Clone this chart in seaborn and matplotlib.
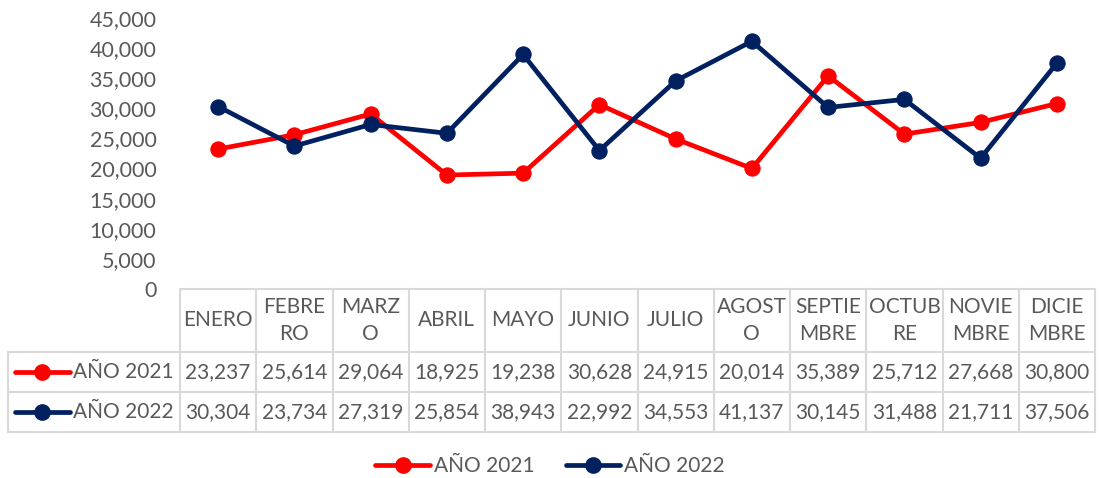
import matplotlib
matplotlib.use("Agg")
import matplotlib.pyplot as plt
from matplotlib.lines import Line2D
import seaborn as sns
import pandas as pd

# Datos del gráfico
meses = ["ENERO", "FEBRE\nRO", "MARZ\nO", "ABRIL", "MAYO", "JUNIO", "JULIO",
         "AGOST\nO", "SEPTIE\nMBRE", "OCTUB\nRE", "NOVIE\nMBRE", "DICIE\nMBRE"]
serie_2021 = [23237, 25614, 29064, 18925, 19238, 30628, 24915, 20014, 35389, 25712, 27668, 30800]
serie_2022 = [30304, 23734, 27319, 25854, 38943, 22992, 34553, 41137, 30145, 31488, 21711, 37506]
nombres = ["AÑO 2021", "AÑO 2022"]
colores = ["#FF0000", "#002060"]

sns.set_style("white")
plt.rcParams["font.family"] = ["Lato", "DejaVu Sans"]
gris = "#595959"
linea_tabla = "#D9D9D9"
fs = 15

fig = plt.figure(figsize=(10.99, 4.78), dpi=100)
W, H = 1099, 478
ax = fig.add_axes([180 / W, (H - 289) / H, 915 / W, 271 / H])

x = list(range(len(meses)))
for nombre, valores, color in zip(nombres, [serie_2021, serie_2022], colores):
    df = pd.DataFrame({"mes": x, "valor": valores})
    sns.lineplot(data=df, x="mes", y="valor", ax=ax, color=color, marker="o",
                 markersize=11, markeredgecolor=color, linewidth=3.4, label=nombre,
                 sort=False)

ax.set_xlim(-0.5, len(meses) - 0.5)
ax.set_ylim(0, 45000)
ax.set_yticks(range(0, 45001, 5000))
ax.set_yticklabels([f"{v:,}" for v in range(0, 45001, 5000)], color=gris, fontsize=fs + 0.5)
ax.tick_params(axis="y", length=0, pad=17)
ax.set_xticks([])
ax.set_xlabel("")
ax.set_ylabel("")
for s in ax.spines.values():
    s.set_visible(False)
ax.get_legend().remove()

# Tabla de datos
tr = ax.get_xaxis_transform()
y_top = 0.0
y_head = -63 / 271
y_r1 = -103 / 271
y_r2 = -143 / 271
x_left = -0.5 - 172 / 76.25

kw = dict(color=linea_tabla, linewidth=1.5, transform=tr, clip_on=False)
ax.add_line(Line2D([-0.5, 11.5], [y_top, y_top], **kw))
for yy in [y_head, y_r1, y_r2]:
    ax.add_line(Line2D([x_left, 11.5], [yy, yy], **kw))
for i in range(len(meses) + 1):
    xx = i - 0.5
    ax.add_line(Line2D([xx, xx], [y_top, y_r2], **kw))
ax.add_line(Line2D([x_left, x_left], [y_head, y_r2], **kw))

for i, m in enumerate(meses):
    ax.text(i, (y_top + y_head) / 2, m, transform=tr, ha="center", va="center",
            color=gris, fontsize=fs, linespacing=1.4)
for valores, (ya, yb) in zip([serie_2021, serie_2022], [(y_head, y_r1), (y_r1, y_r2)]):
    for i, v in enumerate(valores):
        ax.text(i, (ya + yb) / 2, f"{v:,}", transform=tr, ha="center", va="center",
                color=gris, fontsize=fs)

# Claves de leyenda dentro de la tabla
for nombre, color, (ya, yb) in zip(nombres, colores, [(y_head, y_r1), (y_r1, y_r2)]):
    yc = (ya + yb) / 2
    fy = (H - 289) / H + yc * 271 / H
    fig.add_artist(Line2D([15 / W, 70 / W], [fy, fy], color=color, linewidth=3.4,
                          solid_capstyle="round"))
    fig.add_artist(Line2D([42 / W], [fy], color=color, marker="o", markersize=11))
    fig.text(73 / W, fy, nombre, ha="left", va="center", color=gris, fontsize=fs)

# Leyenda inferior
handles = [Line2D([], [], color=c, linewidth=3.4, marker="o", markersize=11) for c in colores]
fig.legend(handles, nombres, loc="center", bbox_to_anchor=(550 / W, 1 - 466 / H),
           ncol=2, frameon=False, fontsize=fs, labelcolor=gris, handlelength=2.6,
           handletextpad=0.2, columnspacing=1.5)

fig.savefig("out.png", dpi=100)
